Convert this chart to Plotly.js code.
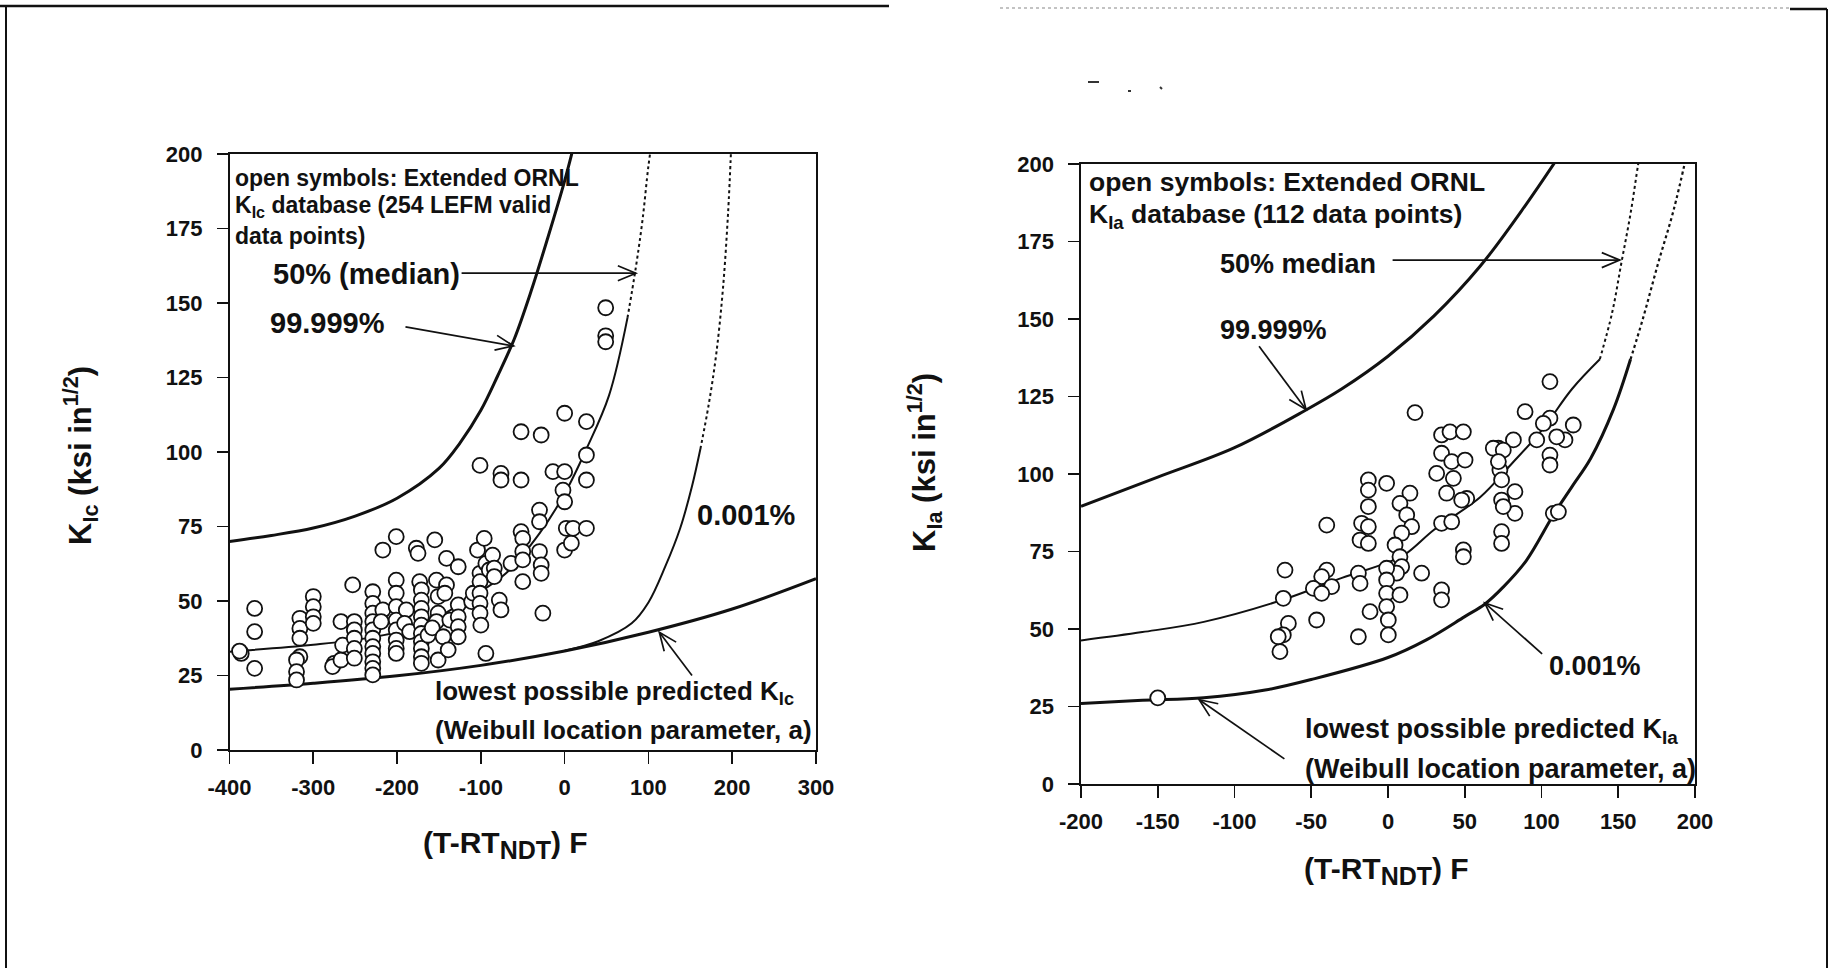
<!DOCTYPE html>
<html><head><meta charset="utf-8">
<script src="https://cdn.plot.ly/plotly-3.0.1.min.js"></script>
<style>html,body{margin:0;padding:0;background:#fff;}#chart{width:1834px;height:968px;}</style>
</head><body><div id="chart"></div>
<script>
// ---------- data: left panel (K_Ic) ----------
const kicT = [-386,-388,-370,-370,-370,-316,-316,-316,-316,-320,-320,-320,-300,-300,-300,-300,-275,-277,-267,-267,-265,-253,-251,-251,-251,-251,-251,
  -229,-229,-229,-229,-229,-229,-229,-229,-229,-229,-229,-217,-217,-219,
  -201,-201,-201,-201,-201,-201,-201,-201,-201,-189,-191,-185,-177,-175,
  -173,-171,-171,-171,-171,-171,-171,-171,-171,-171,-171,-155,-153,-151,-151,-153,-151,-163,-158,-145,
  -141,-141,-143,-137,-139,-127,-127,-127,-127,-127,-111,-109,-104,-101,-101,-101,-101,-101,-100,-96,-94,-94,-90,-86,-84,-84,
  -76,-76,-78,-76,-64,-52,-52,-50,-50,-50,-50,-52,-28,-30,-30,-30,-28,-28,-26,-14,0,0,-2,0,2,0,8,10,26,26,26,26,-101,49,49,49];
const kicK = [32.4,33.2,47.5,39.7,27.4,44.2,40.8,37.5,31.3,30.2,26.3,23.5,51.5,48.1,44.7,42.5,29.1,28,43.1,30.2,35.2,55.4,43.1,40.3,37.5,34.1,30.8,
  53.1,49.2,45.9,43.1,40.3,37.5,34.7,32.4,29.6,27.4,25.2,67.1,47,43.1,
  71.6,57,52.6,48.1,43.6,40.3,36.9,34.1,32.4,47,42.5,39.7,67.7,66,
  56.5,53.7,50.3,47.5,44.7,41.9,39.1,36.4,34.1,31.3,29.1,70.5,57,51.5,45.9,43.1,30.2,38.5,41,38,
  64.3,55.4,52.6,43.6,33.6,61.5,48.7,44.7,41.4,38,49.8,52.6,67.1,59.3,56.5,52.6,49.2,45.9,41.9,71,32.4,62.6,60.4,65.4,61,58.2,
  92.8,90.6,50.3,47,62.6,106.8,73.3,71,66.6,63.8,56.5,90.6,105.7,80.5,76.6,66.6,62.1,59.3,45.9,93.4,113,93.4,87.2,83.3,74.4,67.1,69.4,74.4,74.4,110.2,99,90.6,95.5,148.4,139,137];

// curves, left panel
const lowL_T = [-400,-300,-200,-100,0,100,200,300];
const lowL_K = [20.4,22.4,24.9,28.4,33.2,39.5,47.3,57.5];
const p99L_T = [-400,-350,-300,-250,-200,-150,-125,-100,-80,-60,-40,-20,0,12];
const p99L_K = [70,72,74.5,78.5,84.5,94.5,103,114,125.5,138,154,172,191,204];
const medL_T = [-400,-300,-230,-170,-110,-70,-30,0,26,53,75];
const medL_K = [33,35.3,37.8,42,51.5,59.3,72.7,86,101,119,145];
const medLd_T = [75,85,93,100,106];
const medLd_K = [145,162,178,196,208];
const p001L_T = [0,40,80,100,120,138,152,162];
const p001L_K = [33.3,36.5,42.5,49.5,61.5,74.5,88.5,101];
const p001Ld_T = [162,172,181,189,195,199];
const p001Ld_K = [101,116,133,155,180,204];

// ---------- data: right panel (K_Ia) ----------
const kiaT = [105.5,17.6,89.3,34.9,40.4,49.1,105.5,101.2,120.7,115.3,109.9,96.9,81.7,71.9,68.6,75.1,105.5,105.5,34.9,41.5,50.2,31.7,42.6,72.9,71.9,74,
  38.2,51.3,48,82.7,74,82.7,75.1,34.9,41.5,74,74,107.7,111,49.1,49.1,34.9,34.9,
  -12.8,-0.9,-12.8,-12.8,-17.2,-12.8,-18.2,-12.8,14.3,7.8,12.2,15.4,8.9,4.6,7.8,8.9,5.6,-0.9,-0.9,21.9,-0.9,7.8,-0.9,0.2,0.2,
  -11.7,-19.3,-19.3,-18.2,-39.9,-39.9,-43.2,-36.7,-48.6,-43.2,-46.5,-67.1,-68.2,-64.9,-68.2,-70.4,-71.5,-150];
const kiaK = [129.8,119.8,120.1,112.6,113.6,113.6,118,116.3,115.8,111,112,111,111,108.3,108.3,107.7,106.1,102.9,106.7,104,104.5,100.2,98.6,101.3,104,98.1,
  93.8,92.1,91.6,94.3,91.6,87.3,89.5,84.1,84.6,81.4,77.6,87.3,87.8,75.5,73.3,62.6,59.4,
  98.1,97,94.8,89.5,84.1,83,78.7,77.6,93.8,90.5,86.8,83,80.9,77.1,73.3,70.1,68,69.6,65.8,68,61.5,61,57.2,52.9,48.1,
  55.6,47.5,68,64.7,69,83.5,66.9,63.7,63.1,61.5,52.9,69,59.9,51.8,48.1,42.7,47.5,27.8];

const lowR_T = [-200,-160,-120,-80,-50,0,25,50,63,75,90,108,120,132,147,158];
const lowR_K = [26,27,27.8,30.3,33.7,40.8,46.5,54,58,63.5,72,87,96,105,121,137];
const lowRd_T = [158,166,176,186,195];
const lowRd_K = [137,150,168,185,204];
const medR_T = [-200,-160,-120,-68,-30,0,12,30,60,80,100,120,138];
const medR_K = [46.3,49,52.3,59.5,66.5,71.5,74.4,82,92.5,103,114,127.5,137];
const medRd_T = [138,146,152,158,163,165];
const medRd_K = [137,152,168,184,200,206];
const p99R_T = [-200,-150,-100,-54,-30,0,30,60,90,112];
const p99R_K = [89.6,99,108.5,120.5,127.5,138,151,167,187,203];

// ticks
const xTicksL = [-400,-300,-200,-100,0,100,200,300];
const xTicksR = [-200,-150,-100,-50,0,50,100,150,200];
const yTicks = [0,25,50,75,100,125,150,175,200];

// ---------- figure ----------
const FONT = 'Liberation Sans, Arial, Helvetica, sans-serif';
const INK = '#111';
const W = 1834, H = 968;
const P = (px) => px / W, Q = (py) => 1 - py / H;

// plot-area geometry (pixels) and ranges
const L_X0 = 229.5, L_X1 = 816, L_Y0 = 154, L_Y1 = 750, L_XR = [-400, 300];
const R_X0 = 1081, R_X1 = 1695, R_Y0 = 164, R_Y1 = 784, R_XR = [-200, 200];
const YR = [0, 200];

function curve(x, y, xa, ya, w, dash) {
  return {x: x, y: y, xaxis: xa, yaxis: ya, type: 'scatter', mode: 'lines', hoverinfo: 'skip',
    line: {color: INK, width: w, dash: dash || 'solid', shape: 'spline', smoothing: 1}};
}
function pts(x, y, xa, ya) {
  return {x: x, y: y, xaxis: xa, yaxis: ya, type: 'scatter', mode: 'markers', cliponaxis: false,
    marker: {symbol: 'circle', size: 15, color: '#fff', line: {color: INK, width: 1.8}}};
}

const traces = [
  curve(lowL_T, lowL_K, 'x', 'y', 3),
  curve(p99L_T, p99L_K, 'x', 'y', 3),
  curve(medL_T, medL_K, 'x', 'y', 2),
  curve(medLd_T, medLd_K, 'x', 'y', 2, 'dot'),
  curve(p001L_T, p001L_K, 'x', 'y', 2),
  curve(p001Ld_T, p001Ld_K, 'x', 'y', 2, 'dot'),
  pts(kicT, kicK, 'x', 'y'),
  curve(lowR_T, lowR_K, 'x2', 'y2', 3),
  curve(lowRd_T, lowRd_K, 'x2', 'y2', 2.2, 'dot'),
  curve(medR_T, medR_K, 'x2', 'y2', 2),
  curve(medRd_T, medRd_K, 'x2', 'y2', 2, 'dot'),
  curve(p99R_T, p99R_K, 'x2', 'y2', 3),
  pts(kiaT, kiaK, 'x2', 'y2')
];

function xax(dom, rng, tv) {
  return {domain: dom, range: rng, tickvals: tv, ticktext: tv.map(String), ticks: 'outside', ticklen: 12, tickwidth: 1.6,
    tickcolor: INK, showline: true, linewidth: 1.6, linecolor: INK, mirror: true, showgrid: false, zeroline: false,
    ticklabelstandoff: 5, tickfont: {family: FONT, size: 22, color: INK, weight: 'bold'}, fixedrange: true};
}
function yax(dom, anchor) {
  return {domain: dom, range: YR, tickvals: yTicks, ticktext: yTicks.map(String), ticks: 'outside', ticklen: 11, tickwidth: 1.6,
    tickcolor: INK, showline: true, linewidth: 1.6, linecolor: INK, mirror: true, showgrid: false, zeroline: false,
    ticklabelstandoff: 10, anchor: anchor, tickfont: {family: FONT, size: 22, color: INK, weight: 'bold'}, fixedrange: true};
}

function label(xr, yr, x, y, txt, size, extra) {
  return Object.assign({xref: xr, yref: yr, x: x, y: y, text: txt, showarrow: false, xanchor: 'left', yanchor: 'middle',
    font: {family: FONT, size: size, color: INK, weight: 'bold'}}, extra || {});
}

// open-V arrows drawn as shapes in data coordinates
const sxL = (L_X1 - L_X0) / (L_XR[1] - L_XR[0]), syL = (L_Y1 - L_Y0) / (YR[1] - YR[0]);
const sxR = (R_X1 - R_X0) / (R_XR[1] - R_XR[0]), syR = (R_Y1 - R_Y0) / (YR[1] - YR[0]);
function arrowShapes(xr, yr, tip, tail, sx, sy) {
  const dx = (tip[0] - tail[0]) * sx, dy = (tip[1] - tail[1]) * sy;
  const len = Math.hypot(dx, dy), ux = dx / len, uy = dy / len;
  const HL = 18, HW = 7.5;
  const bx = -ux * HL, by = -uy * HL, px = -uy * HW, py = ux * HW;
  const b1 = [tip[0] + (bx + px) / sx, tip[1] + (by + py) / sy];
  const b2 = [tip[0] + (bx - px) / sx, tip[1] + (by - py) / sy];
  const ln = {color: INK, width: 1.7};
  return [
    {type: 'line', xref: xr, yref: yr, x0: tail[0], y0: tail[1], x1: tip[0], y1: tip[1], line: ln},
    {type: 'path', xref: xr, yref: yr, path: 'M' + b1[0] + ',' + b1[1] + ' L' + tip[0] + ',' + tip[1] + ' L' + b2[0] + ',' + b2[1], line: ln}
  ];
}

const SUBT = '<sub><span style="font-size:25px">NDT</span></sub>';

const annotations = [
  label('x', 'y', -396, 192, 'open symbols: Extended ORNL', 23),
  label('x', 'y', -396, 182.5, 'K<sub>Ic</sub> database (254 LEFM valid', 23),
  label('x', 'y', -396, 172.5, 'data points)', 23),
  label('x', 'y', -350, 159.6, '50% (median)', 29),
  label('x', 'y', -354, 143.4, '99.999%', 29),
  label('x', 'y', 155, 78.8, '0.001%', 29),
  label('x', 'y', -157, 19.2, 'lowest possible predicted K<sub>Ic</sub>', 26),
  label('x', 'y', -157, 6.8, '(Weibull location parameter, a)', 26),

  label('x2', 'y2', -196.4, 194.2, 'open symbols: Extended ORNL', 26.5),
  label('x2', 'y2', -196.4, 183.3, 'K<sub>Ia</sub> database (112 data points)', 26.5),
  label('x2', 'y2', -111, 167.7, '50% median', 27),
  label('x2', 'y2', -111, 146.6, '99.999%', 27),
  label('x2', 'y2', 103.4, 38, '0.001%', 27),
  label('x2', 'y2', -55.5, 17, 'lowest possible predicted K<sub>Ia</sub>', 27),
  label('x2', 'y2', -55.5, 4.75, '(Weibull location parameter, a)', 27),

  // axis titles
  label('paper', 'paper', P(505), Q(845), '(T-RT' + SUBT + ') F', 30, {xanchor: 'center'}),
  label('paper', 'paper', P(80), Q(456), 'K<sub>Ic</sub> (ksi in<sup>1/2</sup>)', 31, {xanchor: 'center', textangle: -90}),
  label('paper', 'paper', P(1386), Q(871), '(T-RT' + SUBT + ') F', 30, {xanchor: 'center'}),
  label('paper', 'paper', P(924), Q(462), 'K<sub>Ia</sub> (ksi in<sup>1/2</sup>)', 31, {xanchor: 'center', textangle: -90})
];

const shapes = [].concat(
  arrowShapes('x', 'y', [85, 160], [-123, 160], sxL, syL),
  arrowShapes('x', 'y', [-61, 135.6], [-190, 142], sxL, syL),
  arrowShapes('x', 'y', [113, 39.5], [152, 25], sxL, syL),
  arrowShapes('x2', 'y2', [151, 169], [3, 169], sxR, syR),
  arrowShapes('x2', 'y2', [-53.4, 120.8], [-84, 141.2], sxR, syR),
  arrowShapes('x2', 'y2', [63, 58.4], [100.4, 42], sxR, syR),
  arrowShapes('x2', 'y2', [-123, 27.2], [-67.5, 8.1], sxR, syR),
  [
    // page frame
    {type: 'line', xref: 'paper', yref: 'paper', x0: P(6), x1: P(6), y0: 0, y1: Q(5), line: {color: INK, width: 2}},
    {type: 'line', xref: 'paper', yref: 'paper', x0: 0, x1: P(889), y0: Q(6), y1: Q(6), line: {color: INK, width: 2.5}},
    {type: 'line', xref: 'paper', yref: 'paper', x0: P(1000), x1: P(1790), y0: Q(8), y1: Q(8), line: {color: '#888', width: 1.2, dash: 'dot'}},
    {type: 'line', xref: 'paper', yref: 'paper', x0: P(1790), x1: P(1827), y0: Q(9), y1: Q(9), line: {color: INK, width: 2.5}},
    {type: 'line', xref: 'paper', yref: 'paper', x0: P(1827), x1: P(1827), y0: 0, y1: Q(9), line: {color: INK, width: 2}},
    // scanner specks
    {type: 'line', xref: 'paper', yref: 'paper', x0: P(1088), x1: P(1099), y0: Q(82), y1: Q(82), line: {color: '#333', width: 2}},
    {type: 'line', xref: 'paper', yref: 'paper', x0: P(1128), x1: P(1131), y0: Q(91), y1: Q(91), line: {color: '#333', width: 2}},
    {type: 'line', xref: 'paper', yref: 'paper', x0: P(1160), x1: P(1162), y0: Q(87), y1: Q(89), line: {color: '#333', width: 2}}
  ]
);

const layout = {
  width: W, height: H, margin: {l: 0, r: 0, t: 0, b: 0}, paper_bgcolor: '#fff', plot_bgcolor: '#fff',
  showlegend: false, hovermode: false,
  xaxis: Object.assign(xax([P(L_X0), P(L_X1)], L_XR, xTicksL), {anchor: 'y'}),
  yaxis: yax([Q(L_Y1), Q(L_Y0)], 'x'),
  xaxis2: Object.assign(xax([P(R_X0), P(R_X1)], R_XR, xTicksR), {anchor: 'y2'}),
  yaxis2: yax([Q(R_Y1), Q(R_Y0)], 'x2'),
  annotations: annotations, shapes: shapes
};

Plotly.newPlot('chart', traces, layout, {staticPlot: true, displayModeBar: false});
</script></body></html>
